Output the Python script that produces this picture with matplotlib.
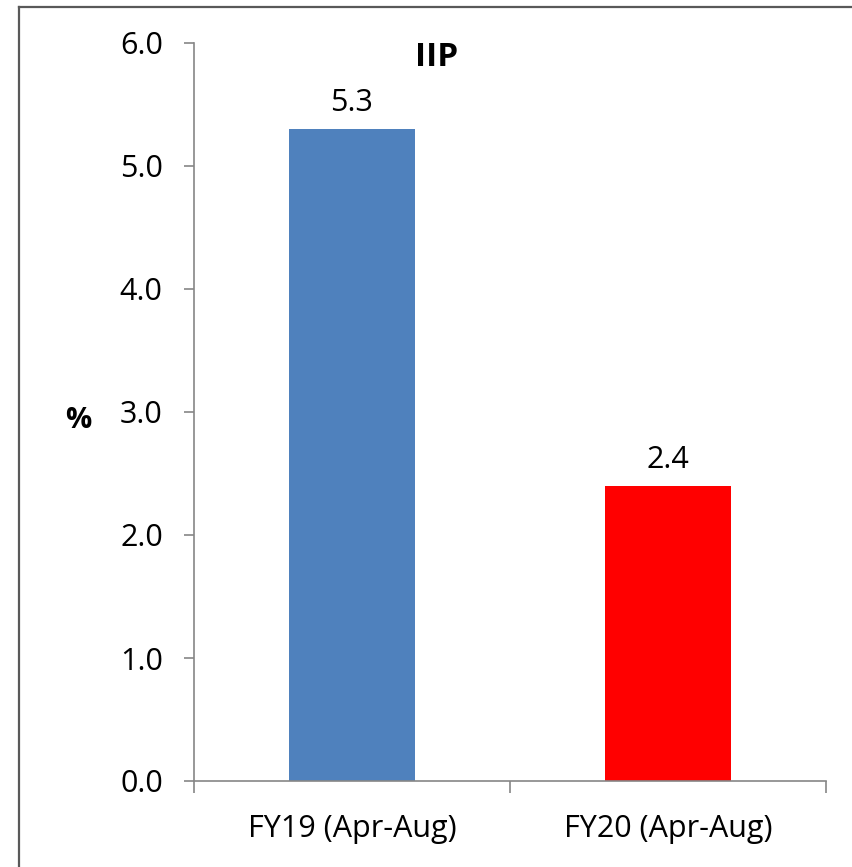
import matplotlib
matplotlib.use("Agg")
import matplotlib.pyplot as plt
from matplotlib.lines import Line2D

categories = ["FY19 (Apr-Aug)", "FY20 (Apr-Aug)"]
values = [5.3, 2.4]
colors = ["#4F81BD", "#FF0000"]
yticks = [0.0, 1.0, 2.0, 3.0, 4.0, 5.0, 6.0]

plt.rcParams['font.family'] = ['Open Sans', 'DejaVu Sans']

W, H = 852, 867
fig = plt.figure(figsize=(W/100, H/100), dpi=100)
ax = fig.add_axes([194/W, 1-781/H, (826-194)/W, (781-43)/H])

FS = 22
x = list(range(len(categories)))
ax.bar(x, values, width=0.4, color=colors, zorder=2)
for xi, v in zip(x, values):
    ax.annotate(f"{v:.1f}", (xi, v), xytext=(0, 11), textcoords="offset pixels",
                ha="center", va="bottom", fontsize=FS, color="black")

ax.set_xlim(-0.5, len(categories)-0.5)
ax.set_ylim(0, 6)
ax.set_yticks(yticks)
ax.set_yticklabels([f"{t:.1f}" for t in yticks], fontsize=FS)
ax.set_xticks(x)
ax.set_xticklabels(categories, fontsize=FS)
ax.set_xticks([-0.5, 0.5, 1.5], minor=True)
ax.tick_params(axis='x', which='major', length=0, pad=24)
ax.tick_params(axis='x', which='minor', length=8.6, color="#868686", width=1.2)
ax.tick_params(axis='y', which='major', length=7.5, color="#868686", width=1.2, pad=15)

for s in ["top", "right"]:
    ax.spines[s].set_visible(False)
for s in ["left", "bottom"]:
    ax.spines[s].set_color("#868686")
    ax.spines[s].set_linewidth(1.2)

fig.text(437/W, 1-57/H, "IIP", ha="center", va="center",
         fontsize=FS+2, fontweight="bold")
fig.text(78/W, 1-420/H, "%", ha="center", va="center", fontsize=FS-1, fontweight="bold")

# outer border
fig.add_artist(Line2D([19/W, 19/W], [0, 1-7/H], transform=fig.transFigure, color="#595959", lw=1.6))
fig.add_artist(Line2D([19/W, 1], [1-7/H, 1-7/H], transform=fig.transFigure, color="#595959", lw=1.6))

fig.savefig("out.png", dpi=100)
